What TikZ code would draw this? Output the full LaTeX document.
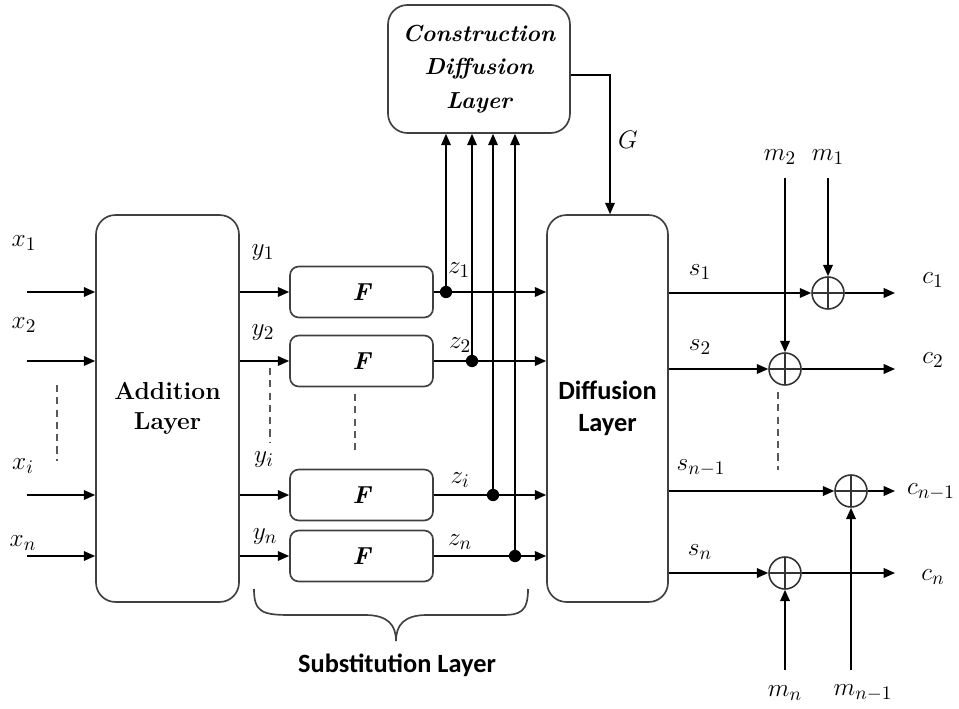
\documentclass[tikz,border=0pt]{standalone}
\usepackage{fontspec}
\newfontfamily\calib{Carlito}
\usetikzlibrary{arrows.meta}
\begin{document}
\begin{tikzpicture}[x=0.02cm,y=-0.02cm,
  line width=0.9pt,
  arr/.style={-{Triangle[length=6.5pt,width=5.5pt]}},
  bigbox/.style={draw=black!75, line width=0.95pt, rounded corners=11pt, inner sep=0pt, align=center},
  fbox/.style={draw=black!75, line width=0.95pt, rounded corners=5pt, inner sep=0pt, minimum width=2.86cm, minimum height=1.02cm, font=\fontsize{14}{16}\selectfont\bfseries\itshape},
  xor/.style={circle, draw=black!80, line width=0.9pt, minimum size=0.64cm, inner sep=0pt,
    path picture={\draw[line width=0.9pt] (path picture bounding box.north) -- (path picture bounding box.south)
      (path picture bounding box.west) -- (path picture bounding box.east);}},
  dot/.style={circle, fill=black, minimum size=7pt, inner sep=0pt},
  lab/.style={font=\fontsize{15}{17}\selectfont, inner sep=0pt},
  dashline/.style={dashed, dash pattern=on 4pt off 3pt, line width=0.8pt, draw=black!65}
]
\useasboundingbox (0,0) rectangle (959,709);

% main boxes
\node[bigbox, minimum width=2.86cm, minimum height=7.74cm, font=\fontsize{14}{17}\selectfont\bfseries] (add) at (167.5,408.5) {Addition\\Layer};
\node[bigbox, minimum width=2.42cm, minimum height=7.74cm, font=\fontsize{15}{18}\selectfont\calib\bfseries] (diff) at (607.5,408.5) {Diffusion\\Layer};
\node[bigbox, minimum width=3.64cm, minimum height=2.56cm, font=\fontsize{13.2}{19}\selectfont\bfseries\itshape] (cons) at (479,69) {Construction\\Diffusion\\Layer};

% F boxes
\node[fbox] (f1) at (361.5,292) {F};
\node[fbox] (f2) at (361.5,361) {F};
\node[fbox] (fi) at (361.5,495) {F};
\node[fbox] (fn) at (361.5,556) {F};

% inputs
\coordinate (in1) at (27,292);
\coordinate (in2) at (27,361);
\coordinate (ini) at (27,495);
\coordinate (inn) at (27,556);
\foreach \p in {in1,in2,ini,inn} \draw[arr] (\p) -- (add.west |- \p);
\node[lab] (lx1) at (24,243) {$x_1$};
\node[lab] (lx2) at (24,325) {$x_2$};
\node[lab] (lxi) at (23,466) {$x_i$};
\node[lab] (lxn) at (23,543) {$x_n$};
\coordinate (dl1) at (57,385);
\coordinate (dl2) at (57,461);
\draw[dashline] (dl1) -- (dl2);

% addition -> F
\foreach \f in {f1,f2,fi,fn} \draw[arr] (add.east |- \f) -- (\f.west);
\node[lab] (ly1) at (263,253) {$y_1$};
\node[lab] (ly2) at (263,333) {$y_2$};
\node[lab] (lyi) at (264,460) {$y_i$};
\node[lab] (lyn) at (265,537) {$y_n$};
\coordinate (dy1) at (270,368);
\coordinate (dy2) at (270,443);
\draw[dashline] (dy1) -- (dy2);
\coordinate (df1) at (355,394);
\coordinate (df2) at (355,450);
\draw[dashline] (df1) -- (df2);

% F -> diffusion with taps
\node[dot] (d1) at (446,292) {};
\node[dot] (d2) at (472,361) {};
\node[dot] (di) at (493,495) {};
\node[dot] (dn) at (515,556) {};
\draw[arr] (f1.east) -- (diff.west |- f1);
\draw[arr] (f2.east) -- (diff.west |- f2);
\draw[arr] (fi.east) -- (diff.west |- fi);
\draw[arr] (fn.east) -- (diff.west |- fn);
\foreach \d in {d1,d2,di,dn} \draw[arr] (\d.center) -- (cons.south -| \d);
\node[lab] (lz1) at (459,270) {$z_1$};
\node[lab] (lz2) at (460,345) {$z_2$};
\node[lab] (lzi) at (460,480) {$z_i$};
\node[lab] (lzn) at (460,542) {$z_n$};

% G
\coordinate (g) at (610,75);
\draw[arr] (cons.east |- g) -- (g) -- (diff.north -| g);
\node[lab] (lg) at (628,140) {$G$};

% XORs
\node[xor] (x1) at (828,293) {};
\node[xor] (x2) at (785,369) {};
\node[xor] (xn1) at (851,491) {};
\node[xor] (xn) at (785,573) {};
\foreach \x in {x1,x2,xn1,xn} \draw[arr] (diff.east |- \x) -- (\x.west);
\coordinate (c1) at (895,293);
\coordinate (c2) at (895,369);
\coordinate (cn1) at (895,491);
\coordinate (cn) at (895,573);
\draw[arr] (x1.east) -- (c1);
\draw[arr] (x2.east) -- (c2);
\draw[arr] (xn1.east) -- (cn1);
\draw[arr] (xn.east) -- (cn);
\coordinate (m1) at (828,178);
\coordinate (m2) at (785,178);
\coordinate (mn1) at (851,670);
\coordinate (mn) at (785,670);
\draw[arr] (m1) -- (x1.north);
\draw[arr] (m2) -- (x2.north);
\draw[arr] (mn1) -- (xn1.south);
\draw[arr] (mn) -- (xn.south);
\coordinate (dr1) at (778,392);
\coordinate (dr2) at (778,470);
\draw[dashline] (dr1) -- (dr2);

\node[lab] (ls1) at (700,272) {$s_1$};
\node[lab] (ls2) at (700,347) {$s_2$};
\node[lab] (lsn1) at (701,468) {$s_{n-1}$};
\node[lab] (lsn) at (700,552) {$s_n$};
\node[lab] (lc1) at (933,280) {$c_1$};
\node[lab] (lc2) at (933,360) {$c_2$};
\node[lab] (lcn1) at (931,492) {$c_{n-1}$};
\node[lab] (lcn) at (933,577) {$c_n$};
\node[lab] (lm2) at (780,157) {$m_2$};
\node[lab] (lm1) at (828,157) {$m_1$};
\node[lab] (lmn) at (785,693) {$m_n$};
\node[lab] (lmn1) at (863,693) {$m_{n-1}$};

% brace
\draw[line width=0.95pt, draw=black!75] (254,589) .. controls (254,612) and (262,615) .. (290,615) -- (365,615)
  .. controls (388,615) and (396,625) .. (396,641)
  .. controls (396,625) and (404,615) .. (427,615) -- (502,615)
  .. controls (520,615) and (528,612) .. (528,589);
\node[font=\fontsize{15}{17}\selectfont\calib\bfseries] (sub) at (397,665) {Substitution Layer};
\end{tikzpicture}
\end{document}
